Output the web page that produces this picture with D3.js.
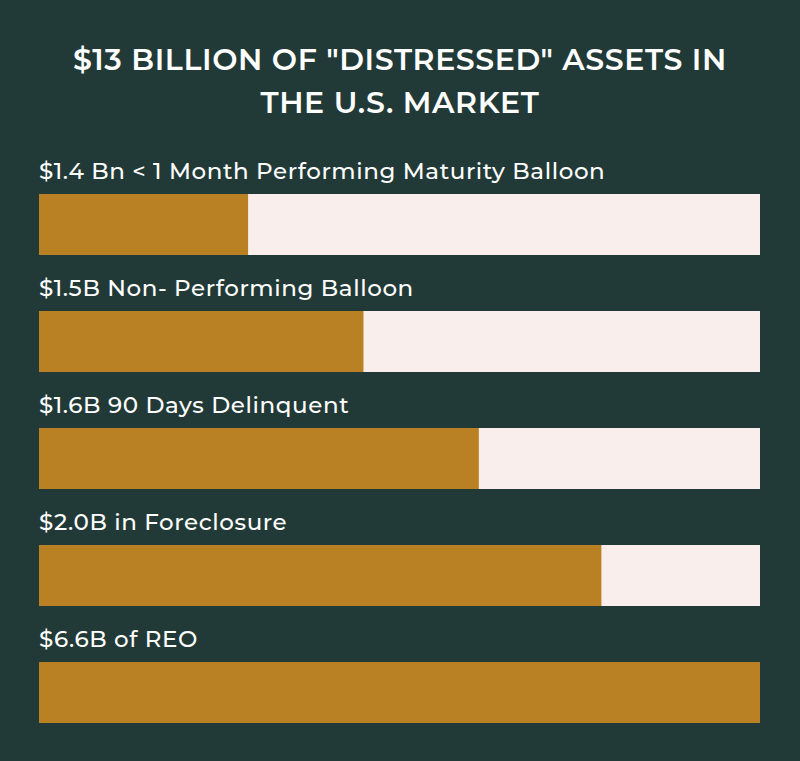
<!DOCTYPE html>
<html>
<head>
<script src="https://cdn.jsdelivr.net/npm/d3@7"></script>
<style>
  body { margin: 0; background: #223a37; }
  svg { display: block; }
</style>
</head>
<body>
<script>
// labels and filled share of each bar
var labels = ["$1.4 Bn < 1 Month Performing Maturity Balloon",
              "$1.5B Non- Performing Balloon",
              "$1.6B 90 Days Delinquent",
              "$2.0B in Foreclosure",
              "$6.6B of REO"];
var fillPct = [29, 45, 61, 78, 100];
var titleLines = ['$13 BILLION OF "DISTRESSED" ASSETS IN', 'THE U.S. MARKET'];

var W = 800, H = 761;
var svg = d3.select("body").append("svg").attr("width", W).attr("height", H);

svg.append("rect").attr("width", W).attr("height", H).attr("fill", "#223a37");

svg.selectAll("text.title")
   .data(titleLines)
   .enter()
   .append("text")
   .attr("class", "title")
   .attr("x", W / 2)
   .attr("y", function (d, i) { return 70 + i * 43; })
   .attr("text-anchor", "middle")
   .attr("fill", "#ffffff")
   .attr("font-family", "Montserrat, 'Open Sans', sans-serif")
   .attr("font-weight", "600")
   .attr("font-size", "30px")
   .attr("letter-spacing", "0.6px")
   .text(function (d) { return d; });

var x = d3.scaleLinear().domain([0, 100]).range([39, 760]);
var y = d3.scaleBand().domain(d3.range(labels.length)).range([145, 730]).paddingInner(0);

var row = svg.selectAll("g.row")
             .data(labels)
             .enter()
             .append("g")
             .attr("class", "row")
             .attr("transform", function (d, i) { return "translate(0," + y(i) + ")"; });

row.append("text")
   .attr("x", 39)
   .attr("y", 34)
   .attr("fill", "#ffffff")
   .attr("font-family", "Montserrat, 'Open Sans', sans-serif")
   .attr("font-weight", "500")
   .attr("font-size", "23px")
   .attr("letter-spacing", "0.6px")
   .text(function (d) { return d; });

row.append("rect")
   .attr("x", x(0))
   .attr("y", 49)
   .attr("width", x(100) - x(0))
   .attr("height", 61)
   .attr("fill", "#f9eeec");

row.append("rect")
   .attr("x", x(0))
   .attr("y", 49)
   .attr("width", function (d, i) { return x(fillPct[i]) - x(0); })
   .attr("height", 61)
   .attr("fill", "#b98123");
</script>
</body>
</html>
